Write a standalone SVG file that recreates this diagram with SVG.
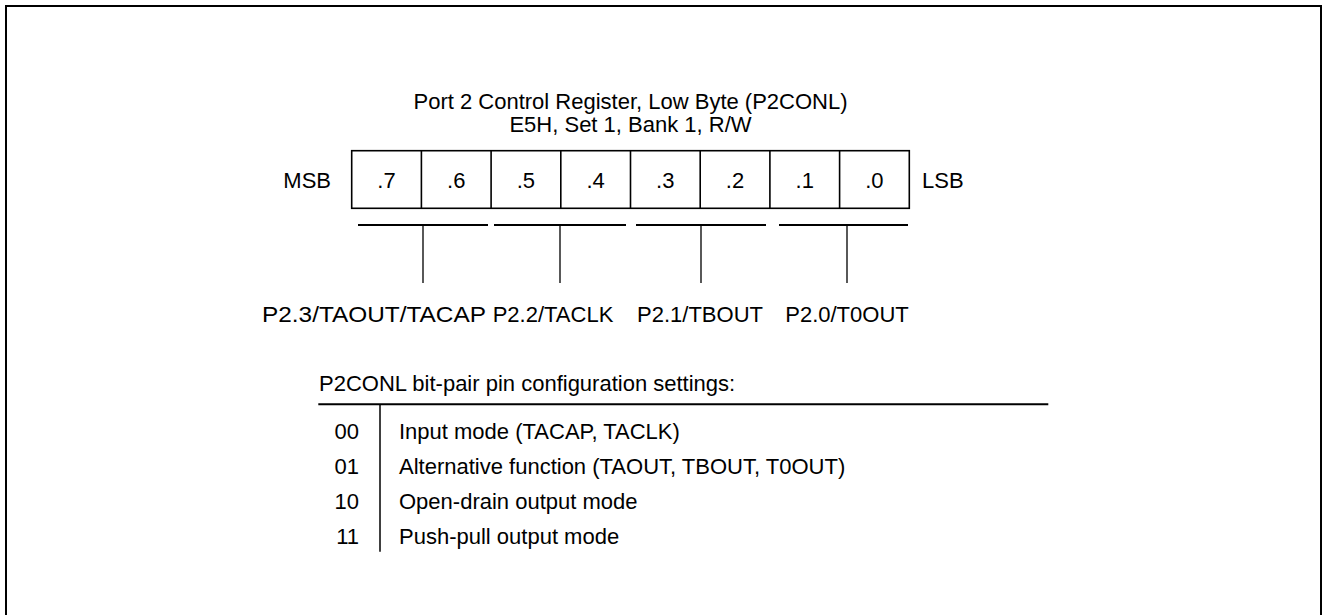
<svg xmlns="http://www.w3.org/2000/svg" width="1323" height="615" viewBox="0 0 1323 615">
<style>
text{font-family:"Liberation Sans",Arial,sans-serif;font-size:22px;fill:#000}
.c{text-anchor:middle}
.e{text-anchor:end}
.ln{stroke:#000;fill:none}
</style>
<rect x="0" y="0" width="1323" height="615" fill="#fff"/>
<rect id="frame" x="6" y="6" width="1315" height="650" fill="none" stroke="#000" stroke-width="2"/>
<g id="title">
<text class="c" x="630.5" y="109">Port 2 Control Register, Low Byte (P2CONL)</text>
<text class="c" x="630.5" y="132">E5H, Set 1, Bank 1, R/W</text>
</g>
<g id="register">
<rect x="351.7" y="150.7" width="557.6" height="57.6" class="ln" stroke-width="1.6"/>
<path class="ln" stroke-width="1.6" d="M421.4 150.7V208.3M491.1 150.7V208.3M560.8 150.7V208.3M630.5 150.7V208.3M700.2 150.7V208.3M769.9 150.7V208.3M839.6 150.7V208.3"/>
<text class="c" x="386.5" y="188">.7</text>
<text class="c" x="456.2" y="188">.6</text>
<text class="c" x="525.9" y="188">.5</text>
<text class="c" x="595.6" y="188">.4</text>
<text class="c" x="665.3" y="188">.3</text>
<text class="c" x="735" y="188">.2</text>
<text class="c" x="804.7" y="188">.1</text>
<text class="c" x="874.4" y="188">.0</text>
<text class="e" x="331" y="188">MSB</text>
<text x="922" y="188">LSB</text>
</g>
<g id="connectors">
<path class="ln" stroke-width="2" d="M358 225H488M494 225H626M636 225H766M779 225H908"/>
<path class="ln" stroke-width="1.3" d="M423 225V283M560 225V283M701 225V283M847 225V283"/>
</g>
<g id="pin-p23"><text x="262" y="322" textLength="224" lengthAdjust="spacingAndGlyphs">P2.3/TAOUT/TACAP</text></g>
<g id="pin-p22"><text class="c" x="553" y="322">P2.2/TACLK</text></g>
<g id="pin-p21"><text class="c" x="700" y="322">P2.1/TBOUT</text></g>
<g id="pin-p20"><text class="c" x="847" y="322">P2.0/T0OUT</text></g>
<g id="settings">
<text x="319" y="391">P2CONL bit-pair pin configuration settings:</text>
<path class="ln" stroke-width="2" d="M318.3 404.3H1048.3"/>
<path class="ln" stroke-width="1.5" d="M380 404.3V551.7"/>
<text class="e" x="359" y="439">00</text>
<text class="e" x="359" y="474">01</text>
<text class="e" x="359" y="509">10</text>
<text class="e" x="359" y="544">11</text>
<text x="399" y="439">Input mode (TACAP, TACLK)</text>
<text x="399" y="474">Alternative function (TAOUT, TBOUT, T0OUT)</text>
<text x="399" y="509">Open-drain output mode</text>
<text x="399" y="544">Push-pull output mode</text>
</g>
</svg>
